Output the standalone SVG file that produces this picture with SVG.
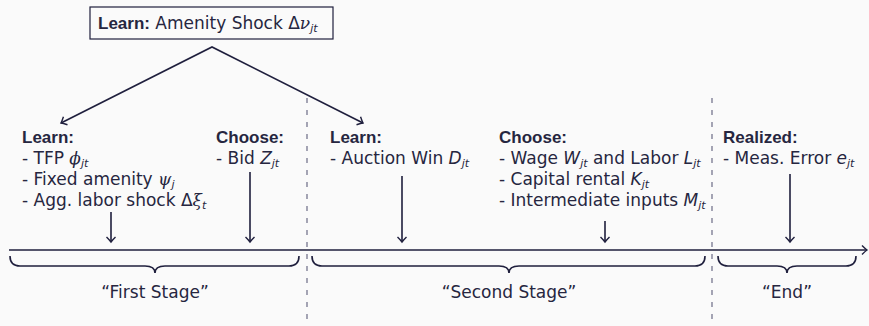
<svg xmlns="http://www.w3.org/2000/svg" width="869" height="326" viewBox="0 0 869 326">
<defs>
<style>
.t{font-family:"DejaVu Sans",sans-serif;font-size:17px;fill:#262640}
.b{font-family:"Liberation Sans",Arial,sans-serif;font-weight:bold}
.i{font-style:italic}
.g{font-family:"DejaVu Serif",serif;font-style:italic}
.s{font-size:11px}
.ln{stroke:#1f1f3d;stroke-width:1.6;fill:none}
.ds{stroke:#6b6b85;stroke-width:1.2;stroke-dasharray:5 7;fill:none}
</style>
<marker id="ah" markerUnits="userSpaceOnUse" viewBox="-7 -6 9 12" markerWidth="9" markerHeight="12" refX="0" refY="0" orient="auto">
<path d="M-5,-4.5 Q-1.5,-1 0,0 Q-1.5,1 -5,4.5" fill="none" stroke="#1f1f3d" stroke-width="1.4"/>
</marker>
<marker id="ahr" markerUnits="userSpaceOnUse" viewBox="-7 -6 9 12" markerWidth="9" markerHeight="12" refX="0" refY="0" orient="auto-start-reverse">
<path d="M-5,-4.5 Q-1.5,-1 0,0 Q-1.5,1 -5,4.5" fill="none" stroke="#1f1f3d" stroke-width="1.4"/>
</marker>
</defs>
<rect width="869" height="326" fill="#fafafa"/>

<g id="dividers">
<line class="ds" x1="307" y1="98" x2="307" y2="326"/>
<line class="ds" x1="712" y1="98" x2="712" y2="326"/>
</g>

<g id="top-node">
<rect x="90" y="7" width="243" height="32" fill="#fafafa" stroke="#1f1f3d" stroke-width="1.2"/>
<text class="t" x="98" y="29"><tspan class="b">Learn:</tspan> Amenity Shock Δ<tspan class="g">ν</tspan><tspan class="i s" dy="3">jt</tspan></text>
</g>

<g id="first-learn">
<text class="t" x="22" y="143"><tspan class="b">Learn:</tspan></text>
<text class="t" x="22" y="164">- TFP <tspan class="g">ϕ</tspan><tspan class="i s" dy="3">jt</tspan></text>
<text class="t" x="22" y="185">- Fixed amenity <tspan class="g">ψ</tspan><tspan class="i s" dy="3">j</tspan></text>
<text class="t" x="22" y="206">- Agg. labor shock Δ<tspan class="g">ξ</tspan><tspan class="i s" dy="3">t</tspan></text>
</g>

<g id="first-choose">
<text class="t" x="216" y="143"><tspan class="b">Choose:</tspan></text>
<text class="t" x="216" y="164">- Bid <tspan class="i">Z</tspan><tspan class="i s" dy="3">jt</tspan></text>
</g>

<g id="second-learn">
<text class="t" x="330" y="143"><tspan class="b">Learn:</tspan></text>
<text class="t" x="330" y="164">- Auction Win <tspan class="i">D</tspan><tspan class="i s" dy="3">jt</tspan></text>
</g>

<g id="second-choose">
<text class="t" x="499" y="143"><tspan class="b">Choose:</tspan></text>
<text class="t" x="499" y="164">- Wage <tspan class="i">W</tspan><tspan class="i s" dy="3">jt</tspan><tspan dy="-3"> and Labor </tspan><tspan class="i">L</tspan><tspan class="i s" dy="3">jt</tspan></text>
<text class="t" x="499" y="185">- Capital rental <tspan class="i">K</tspan><tspan class="i s" dy="3">jt</tspan></text>
<text class="t" x="499" y="206">- Intermediate inputs <tspan class="i">M</tspan><tspan class="i s" dy="3">jt</tspan></text>
</g>

<g id="realized">
<text class="t" x="723" y="143"><tspan class="b">Realized:</tspan></text>
<text class="t" x="723" y="164">- Meas. Error <tspan class="i">e</tspan><tspan class="i s" dy="3">jt</tspan></text>
</g>

<g id="stage-labels">
<text class="t" x="155" y="298" text-anchor="middle">“First Stage”</text>
<text class="t" x="509" y="298" text-anchor="middle">“Second Stage”</text>
<text class="t" x="787" y="298" text-anchor="middle">“End”</text>
</g>

<g id="connectors">
<polyline class="ln" points="61,123 212,47 363,123" marker-start="url(#ahr)" marker-end="url(#ah)"/>
<line class="ln" x1="9" y1="250" x2="867" y2="250" marker-end="url(#ah)"/>
<line class="ln" x1="111" y1="212" x2="111" y2="242" marker-end="url(#ah)"/>
<line class="ln" x1="250" y1="172" x2="250" y2="242" marker-end="url(#ah)"/>
<line class="ln" x1="402" y1="176" x2="402" y2="242" marker-end="url(#ah)"/>
<line class="ln" x1="605" y1="221" x2="605" y2="242" marker-end="url(#ah)"/>
<line class="ln" x1="790" y1="174" x2="790" y2="242" marker-end="url(#ah)"/>
<path class="ln" d="M10,256 Q10,266 20,266 L145,266 Q155,266 155,273 Q155,266 165,266 L289,266 Q299,266 299,256"/>
<path class="ln" d="M312,256 Q312,266 322,266 L499,266 Q509,266 509,273 Q509,266 519,266 L695,266 Q705,266 705,256"/>
<path class="ln" d="M718,256 Q718,266 728,266 L777,266 Q787,266 787,273 Q787,266 797,266 L846,266 Q856,266 856,256"/>
</g>
</svg>
